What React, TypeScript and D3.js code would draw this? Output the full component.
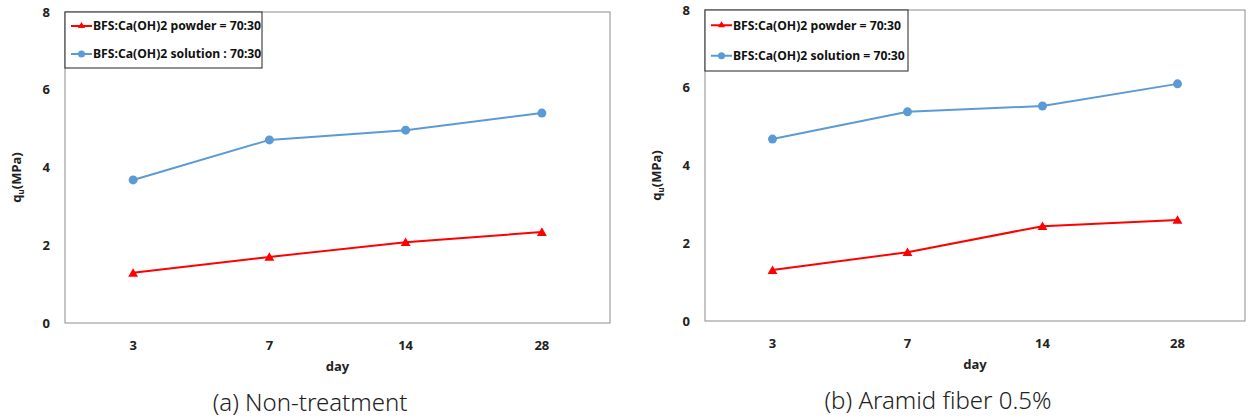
import React from 'react';
import * as d3 from 'd3';

// categories (curing days)
const days = ['3', '7', '14', '28'];

// (a) Non-treatment
const powderA = [1.29, 1.7, 2.08, 2.34];
const solutionA = [3.68, 4.71, 4.96, 5.4];

// (b) Aramid fiber 0.5%
const powderB = [1.31, 1.77, 2.44, 2.6];
const solutionB = [4.68, 5.38, 5.53, 6.1];

const yTicks = [0, 2, 4, 6, 8];

const RED = '#ff0000';
const BLUE = '#5b9bd5';
const FONT = "'Noto Sans', 'Open Sans', sans-serif";

type PanelProps = {
  x0: number;
  x1: number;
  top: number;
  bottom: number;
  powder: number[];
  solution: number[];
  legendLabels: string[];
  legendH: number;
  legendW: number;
  caption: string;
  captionX: number;
};

const Panel = ({ x0, x1, top, bottom, powder, solution, legendLabels, legendH, legendW, caption, captionX }: PanelProps) => {
  const x = d3.scaleBand<string>().domain(days).range([x0, x1]);
  const y = d3.scaleLinear().domain([0, 8]).range([bottom, top]);
  const cx = (d: string) => (x(d) as number) + x.bandwidth() / 2;
  const line = d3.line<number>().x((_, i) => cx(days[i])).y(v => y(v));
  const tri = d3.symbol(d3.symbolTriangle, 42)();
  const triSmall = d3.symbol(d3.symbolTriangle, 22)();
  const mid = (x0 + x1) / 2;
  const rowH = legendH / 2;

  return (
    <g>
      {/* plot frame */}
      <rect x={x0} y={top} width={x1 - x0} height={bottom - top} fill="#fff" stroke="#8c8c8c" strokeWidth={1} />

      {/* y ticks */}
      {yTicks.map(t => (
        <text key={t} x={x0 - 15} y={y(t)} dy="0.35em" textAnchor="end" fontFamily={FONT} fontWeight="bold" fontSize={13} fill="#222">
          {t}
        </text>
      ))}
      <text
        transform={`translate(${x0 - 44},${(top + bottom) / 2 + 10}) rotate(-90)`}
        textAnchor="middle"
        fontFamily={FONT}
        fontWeight="bold"
        fontSize={13}
        fill="#222"
      >
        q<tspan fontSize={8} dy={3}>u</tspan>
        <tspan dy={-3}>(MPa)</tspan>
      </text>

      {/* x ticks */}
      {days.map(d => (
        <text key={d} x={cx(d)} y={bottom + 22} dy="0.35em" textAnchor="middle" fontFamily={FONT} fontWeight="bold" fontSize={13} fill="#222">
          {d}
        </text>
      ))}
      <text x={mid} y={bottom + 43} dy="0.35em" textAnchor="middle" fontFamily={FONT} fontWeight="bold" fontSize={13} fill="#222">
        day
      </text>

      {/* series */}
      <path d={line(solution) || ''} fill="none" stroke={BLUE} strokeWidth={2} />
      {solution.map((v, i) => (
        <circle key={i} cx={cx(days[i])} cy={y(v)} r={4.5} fill={BLUE} />
      ))}
      <path d={line(powder) || ''} fill="none" stroke={RED} strokeWidth={2} />
      {powder.map((v, i) => (
        <path key={i} d={tri || ''} transform={`translate(${cx(days[i])},${y(v) + 1})`} fill={RED} />
      ))}

      {/* legend */}
      <rect x={x0} y={top} width={legendW} height={legendH} fill="#fff" stroke="#222" strokeWidth={1} />
      {[RED, BLUE].map((c, i) => {
        const ly = top + rowH * (i + 0.5);
        return (
          <g key={i}>
            <line x1={x0 + 6} x2={x0 + 27} y1={ly} y2={ly} stroke={c} strokeWidth={2} />
            {i === 0 ? (
              <path d={triSmall || ''} transform={`translate(${x0 + 16.5},${ly})`} fill={c} />
            ) : (
              <circle cx={x0 + 16.5} cy={ly} r={3.5} fill={c} />
            )}
            <text x={x0 + 28} y={ly} dy="0.35em" fontFamily={FONT} fontWeight="bold" fontSize={12.2} fill="#111">
              {legendLabels[i]}
            </text>
          </g>
        );
      })}

      {/* caption */}
      <text x={captionX} y={bottom + 80} dy="0.35em" textAnchor="middle" fontFamily={FONT} fontWeight={300} fontSize={24} fill="#222">
        {caption}
      </text>
    </g>
  );
};

export default function App() {
  return (
    <svg width={1248} height={420} style={{ position: 'absolute', left: 0, top: 0, background: '#fff' }}>
      <rect width={1248} height={420} fill="#fff" />
      <Panel
        x0={65}
        x1={610}
        top={12}
        bottom={323}
        powder={powderA}
        solution={solutionA}
        legendLabels={['BFS:Ca(OH)2 powder = 70:30', 'BFS:Ca(OH)2 solution : 70:30']}
        legendW={197}
        legendH={56}
        caption="(a) Non-treatment"
        captionX={310}
      />
      <Panel
        x0={705}
        x1={1245}
        top={10}
        bottom={321}
        powder={powderB}
        solution={solutionB}
        legendLabels={['BFS:Ca(OH)2 powder = 70:30', 'BFS:Ca(OH)2 solution = 70:30']}
        legendW={203}
        legendH={61}
        caption="(b) Aramid fiber 0.5%"
        captionX={938}
      />
    </svg>
  );
}
